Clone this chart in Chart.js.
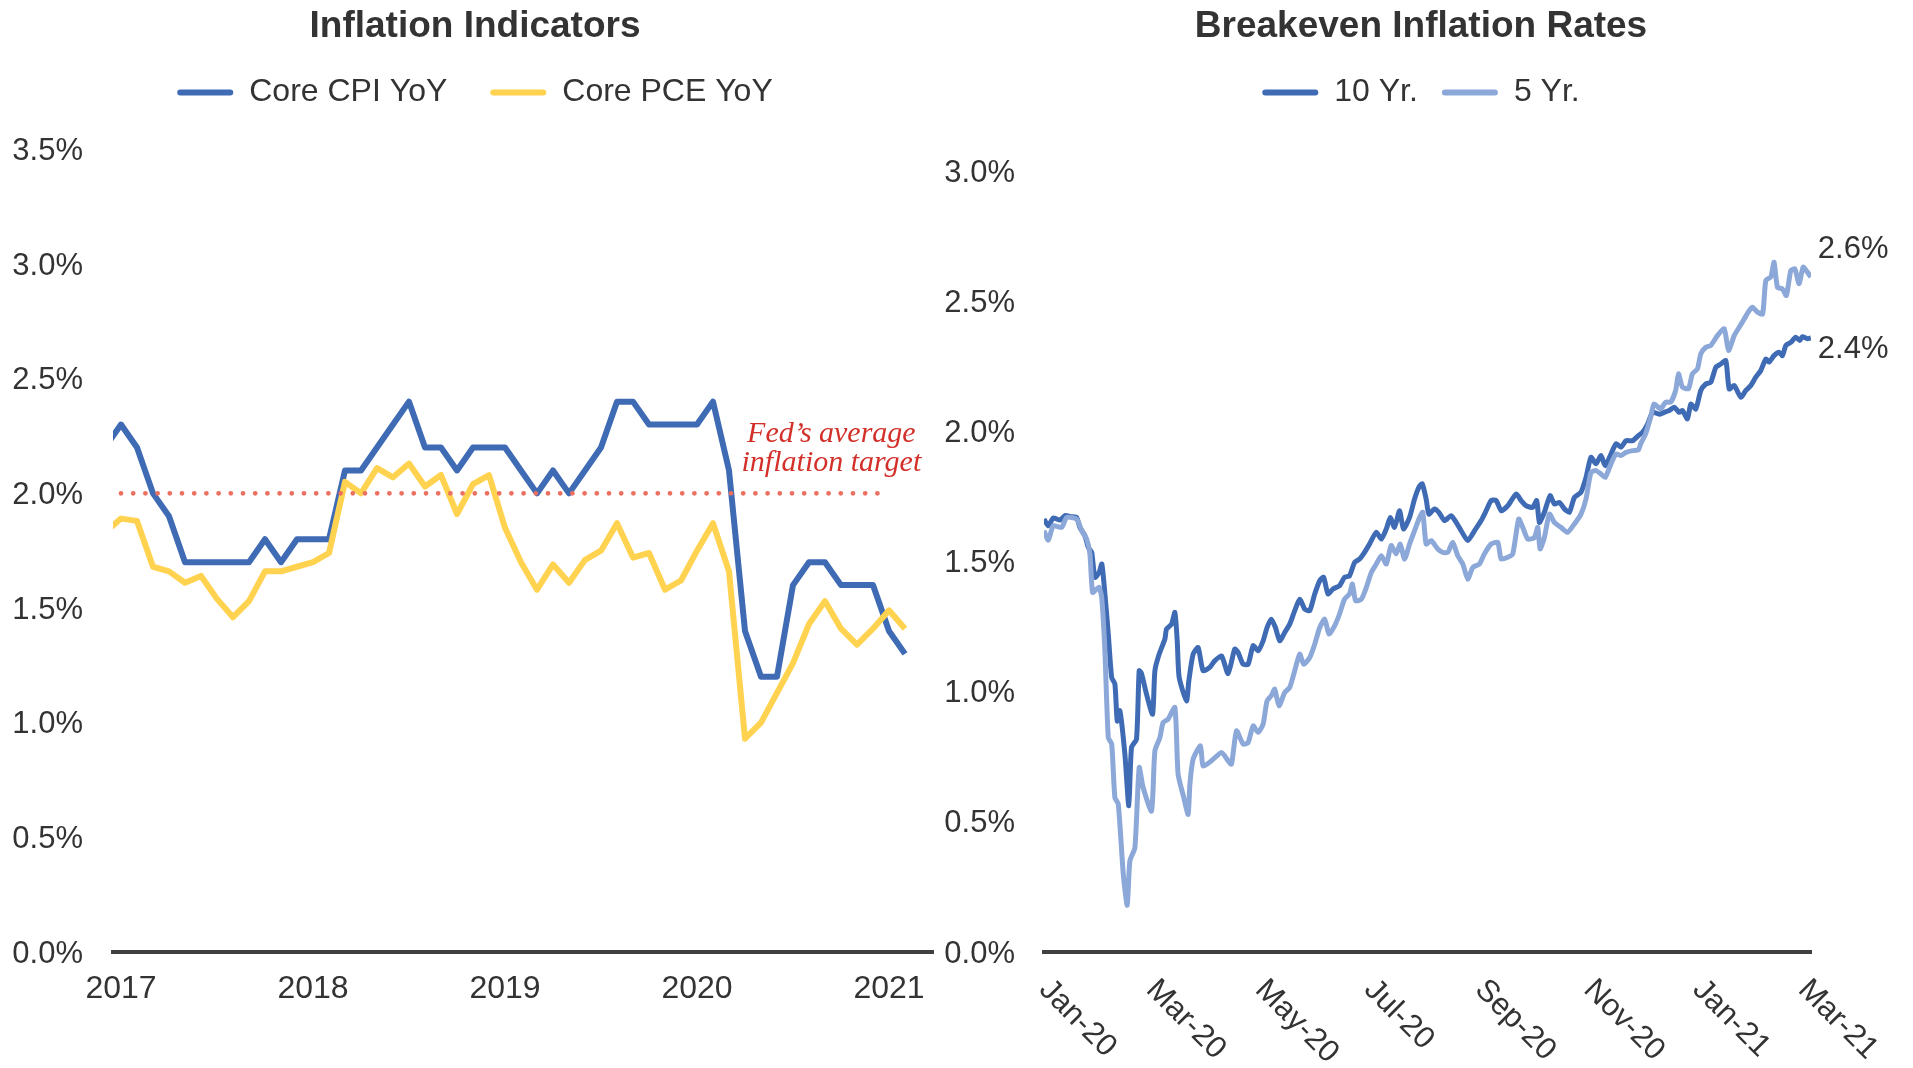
<!DOCTYPE html>
<html>
<head>
    <title>Inflation Indicators / Breakeven Inflation Rates</title>
    <script src="https://cdn.jsdelivr.net/npm/chart.js"></script>
    <style>
        body {
            margin: 0;
            background-color: #ffffff;
            overflow: hidden;
        }
        #leftChart { position: absolute; left: 0; top: 0; }
        #rightChart { position: absolute; left: 930px; top: 0; }
    </style>
</head>
<body>
    <canvas id="leftChart" width="950" height="1068"></canvas>
    <canvas id="rightChart" width="983" height="1068"></canvas>

    <script>
        // ---- Inflation Indicators (monthly, first point Dec 2016, x = months from Jan 2017)
        const firstMonth = -1;
        const coreCpi = [2.2,
            2.3, 2.2, 2.0, 1.9, 1.7, 1.7, 1.7, 1.7, 1.7, 1.8, 1.7, 1.8,
            1.8, 1.8, 2.1, 2.1, 2.2, 2.3, 2.4, 2.2, 2.2, 2.1, 2.2, 2.2,
            2.2, 2.1, 2.0, 2.1, 2.0, 2.1, 2.2, 2.4, 2.4, 2.3, 2.3, 2.3,
            2.3, 2.4, 2.1, 1.4, 1.2, 1.2, 1.6, 1.7, 1.7, 1.6, 1.6, 1.6,
            1.4, 1.3];
        const corePce = [1.83,
            1.89, 1.88, 1.68, 1.66, 1.61, 1.64, 1.54, 1.46, 1.53, 1.66, 1.66, 1.68,
            1.70, 1.74, 2.05, 2.00, 2.11, 2.07, 2.13, 2.03, 2.08, 1.91, 2.04, 2.08,
            1.85, 1.70, 1.58, 1.69, 1.61, 1.71, 1.75, 1.87, 1.72, 1.74, 1.58, 1.62,
            1.75, 1.87, 1.66, 0.93, 1.00, 1.13, 1.26, 1.43, 1.53, 1.41, 1.34, 1.41,
            1.49, 1.41];
        const fedTarget = 2.0;
        const targetFrom = 0;   // Jan 2017
        const targetTo = 48;    // Jan 2021
        const yearTicks = [0, 12, 24, 36, 48];
        const yearLabels = ['2017', '2018', '2019', '2020', '2021'];
        const noteLines = ['Fed\u2019s average', 'inflation target'];
        const noteMonth = 44.4;
        const noteLevels = [2.26, 2.13];

        // ---- Breakeven Inflation Rates (x = days from 1 Jan 2020)
        const days10 = [0, 2.4, 5.2, 8.9, 11.7, 15.5, 18.3, 20.1, 22.9, 24.8, 26.7, 28.5, 30.9, 32.4, 34.1, 36.0,
            37.9, 39.7, 41.0, 42.5, 45.3, 47.5, 49.0, 51.8, 53.3, 54.6, 57.4, 60.8, 62.1, 64.5, 67.7, 68.6,
            71.4, 73.3, 74.6, 75.7, 79.8, 81.1, 83.5, 86.3, 89.1, 92.8, 95.6, 99.4, 103.1, 106.8, 108.7, 111.5,
            114.3, 117.1, 119.9, 122.7, 124.9, 127.3, 129.6, 132.0, 134.8, 137.6, 140.4, 143.2, 146.0, 148.8,
            151.6, 154.4, 156.6, 159.0, 161.8, 165.5, 168.3, 171.1, 173.9, 176.7, 179.5, 182.3, 186.1, 188.9,
            191.7, 193.9, 196.3, 199.1, 201.3, 204.7, 207.5, 209.9, 211.8, 214.0, 215.5, 218.7, 221.1, 224.3,
            228.0, 230.8, 233.6, 237.3, 241.1, 244.8, 247.6, 250.4, 253.2, 256.0, 259.7, 264.4, 267.2, 270.0,
            273.7, 275.9, 277.4, 280.2, 283.4, 285.8, 288.6, 291.4, 294.2, 297.0, 300.7, 303.5, 306.3, 309.1,
            311.9, 314.3, 317.5, 320.3, 323.1, 325.9, 329.6, 332.9, 335.2, 338.0, 340.8, 344.5, 347.3, 350.1,
            352.9, 355.7, 357.5, 360.3, 362.2, 365.0, 367.8, 370.6, 373.4, 376.2, 379.0, 381.8, 383.7, 386.5,
            390.2, 393.0, 395.8, 398.6, 401.4, 404.2, 406.0, 408.8, 411.6, 413.5, 415.4, 418.2, 421.0, 423.2,
            424.7, 427.5, 429.4];
        const be10 = [1.664, 1.638, 1.668, 1.66, 1.677, 1.673, 1.67, 1.632, 1.6, 1.555, 1.536, 1.44, 1.459, 1.491, 1.376, 1.222,
            1.055, 1.03, 0.888, 0.927, 0.76, 0.562, 0.786, 0.818, 1.081, 1.07, 0.991, 0.914, 1.081, 1.145, 1.203, 1.241,
            1.26, 1.305, 1.196, 1.055, 0.965, 1.042, 1.145, 1.17, 1.081, 1.094, 1.119, 1.138, 1.07, 1.164, 1.151, 1.106,
            1.106, 1.177, 1.158, 1.196, 1.247, 1.279, 1.247, 1.196, 1.228, 1.26, 1.312, 1.356, 1.318, 1.312,
            1.376, 1.427, 1.44, 1.376, 1.395, 1.408, 1.44, 1.446, 1.497, 1.51, 1.536, 1.568, 1.613, 1.587,
            1.626, 1.67, 1.632, 1.696, 1.626, 1.67, 1.741, 1.786, 1.799, 1.741, 1.683, 1.703, 1.69, 1.658,
            1.677, 1.651, 1.619, 1.581, 1.619, 1.658, 1.696, 1.735, 1.735, 1.696, 1.715, 1.76, 1.735, 1.715,
            1.709, 1.735, 1.651, 1.69, 1.754, 1.722, 1.728, 1.703, 1.69, 1.747, 1.767, 1.824, 1.901, 1.876,
            1.908, 1.869, 1.914, 1.953, 1.94, 1.965, 1.965, 1.985, 1.997, 2.029, 2.074, 2.067, 2.074, 2.081,
            2.094, 2.074, 2.081, 2.049, 2.106, 2.087, 2.158, 2.183, 2.19, 2.247, 2.26, 2.273, 2.164, 2.177,
            2.132, 2.158, 2.177, 2.209, 2.235, 2.279, 2.267, 2.292, 2.305, 2.292, 2.331, 2.343, 2.363, 2.35,
            2.365, 2.357, 2.36];
        const days5 = [0, 2.4, 5.2, 9.9, 12.7, 18.3, 21.1, 23.9, 25.7, 27.2, 29.5, 30.9, 32.3, 34.1, 36.0, 37.9,
            39.7, 41.6, 44.4, 46.6, 48.1, 50.9, 53.3, 55.5, 60.2, 62.1, 64.9, 66.7, 69.5, 73.3, 75.1, 78.3,
            80.7, 81.7, 83.5, 87.6, 89.1, 93.8, 99.4, 103.1, 105.0, 107.8, 111.5, 114.3, 117.1, 119.9, 122.7, 124.9,
            127.3, 129.2, 131.6, 134.8, 137.6, 140.4, 143.2, 145.4, 148.8, 151.6, 154.4, 157.2, 159.6, 162.8,
            165.5, 168.3, 171.1, 172.7, 174.5, 177.7, 180.5, 183.3, 186.1, 188.9, 191.7, 194.4, 197.2, 199.5,
            201.9, 204.7, 207.5, 210.3, 212.1, 214.0, 216.8, 220.5, 223.3, 226.1, 228.9, 231.7, 234.5, 237.3,
            240.1, 243.8, 246.6, 250.4, 254.1, 256.0, 259.7, 262.5, 265.8, 268.1, 270.9, 274.6, 276.5, 277.8,
            280.2, 283.0, 285.8, 289.5, 293.2, 297.0, 300.7, 303.5, 306.3, 309.1, 311.9, 314.3, 317.5, 320.3,
            323.1, 325.9, 329.6, 332.9, 334.1, 336.9, 339.7, 341.6, 345.3, 348.1, 350.9, 353.7, 355.3, 357.5,
            360.9, 363.1, 365.9, 367.8, 370.6, 373.4, 377.1, 380.9, 383.3, 386.5, 389.3, 392.1, 394.9, 396.7,
            399.5, 402.4, 404.2, 407.0, 408.8, 410.7, 413.5, 415.7, 418.2, 420.5, 422.8, 425.1, 427.5, 429.4];
        const be5 = [1.619, 1.583, 1.638, 1.632, 1.67, 1.664, 1.619, 1.587, 1.53, 1.382, 1.395, 1.401, 1.363, 1.158, 0.824, 0.799,
            0.593, 0.568, 0.299, 0.18, 0.35, 0.401, 0.709, 0.632, 0.542, 0.773, 0.824, 0.882, 0.895, 0.94, 0.683, 0.593,
            0.529, 0.645, 0.741, 0.792, 0.715, 0.735, 0.767, 0.735, 0.722, 0.85, 0.799, 0.805, 0.869, 0.844, 0.876, 0.965,
            0.985, 1.01, 0.946, 0.997, 1.017, 1.081, 1.145, 1.106, 1.132, 1.183, 1.247, 1.279, 1.222, 1.254,
            1.299, 1.356, 1.376, 1.414, 1.35, 1.356, 1.401, 1.459, 1.491, 1.523, 1.491, 1.562, 1.53, 1.568,
            1.51, 1.568, 1.619, 1.67, 1.69, 1.568, 1.581, 1.549, 1.536, 1.536, 1.574, 1.523, 1.491, 1.433,
            1.478, 1.491, 1.53, 1.568, 1.574, 1.51, 1.517, 1.53, 1.664, 1.632, 1.587, 1.593, 1.632, 1.549,
            1.593, 1.683, 1.651, 1.632, 1.613, 1.645, 1.683, 1.741, 1.843, 1.85, 1.837, 1.824, 1.876, 1.914,
            1.908, 1.92, 1.927, 1.93, 1.953, 1.991, 2.055, 2.106, 2.087, 2.113, 2.113, 2.158, 2.222, 2.171,
            2.165, 2.222, 2.241, 2.299, 2.324, 2.331, 2.369, 2.395, 2.312, 2.369, 2.401, 2.433, 2.465, 2.478,
            2.459, 2.452, 2.581, 2.594, 2.651, 2.555, 2.548, 2.523, 2.619, 2.625, 2.568, 2.632, 2.613, 2.594];
        const monthTicks = [0, 60, 121, 182, 244, 305, 366, 425];
        const monthLabels = ['Jan-20', 'Mar-20', 'May-20', 'Jul-20', 'Sep-20', 'Nov-20', 'Jan-21', 'Mar-21'];

        const TEXT = '#333333';
        const SANS = '"Liberation Sans", Arial, sans-serif';
        Chart.defaults.font.family = SANS;
        Chart.defaults.color = TEXT;
        Chart.defaults.animation = false;

        const toPoints = (xs, ys) => ys.map((y, i) => ({ x: xs[i], y: y }));
        const pct = v => v.toFixed(1) + '%';

        // legend swatches: flat coloured bars instead of outlined boxes
        const swatchLabels = chart => Chart.defaults.plugins.legend.labels.generateLabels(chart)
            .map(item => Object.assign(item, { fillStyle: item.strokeStyle, lineWidth: 0, borderRadius: 3 }));
        const byIndex = (a, b) => a.datasetIndex - b.datasetIndex;

        // extra space under the legend
        const legendGap = {
            id: 'legendGap',
            beforeInit(chart, args, opts) {
                const fit = chart.legend.fit;
                chart.legend.fit = function () {
                    fit.call(this);
                    this.height += opts.extra;
                };
            }
        };

        // red italic note next to the dotted target line
        const targetNote = {
            id: 'targetNote',
            afterDatasetsDraw(chart) {
                const { ctx, scales: { x, y } } = chart;
                ctx.save();
                ctx.font = 'italic 30px "Liberation Serif", Georgia, serif';
                ctx.fillStyle = '#D3302A';
                ctx.textAlign = 'center';
                ctx.textBaseline = 'middle';
                noteLines.forEach((line, i) => {
                    ctx.fillText(line, x.getPixelForValue(noteMonth), y.getPixelForValue(noteLevels[i]));
                });
                ctx.restore();
            }
        };

        // last value printed to the right of each breakeven line
        const endLabels = {
            id: 'endLabels',
            afterDatasetsDraw(chart) {
                const ctx = chart.ctx;
                ctx.save();
                ctx.font = '31px ' + SANS;
                ctx.fillStyle = TEXT;
                ctx.textAlign = 'left';
                ctx.textBaseline = 'middle';
                chart.data.datasets.forEach((ds, i) => {
                    const pts = chart.getDatasetMeta(i).data;
                    const last = pts[pts.length - 1];
                    ctx.fillText(pct(ds.data[ds.data.length - 1].y), last.x + 7, last.y + ds.labelShift);
                });
                ctx.restore();
            }
        };

        // month labels slanted downwards under the axis
        const slantLabels = {
            id: 'slantLabels',
            afterDraw(chart) {
                const { ctx, chartArea, scales: { x } } = chart;
                ctx.save();
                ctx.font = '31px ' + SANS;
                ctx.fillStyle = TEXT;
                ctx.textAlign = 'left';
                ctx.textBaseline = 'middle';
                monthTicks.forEach((d, i) => {
                    ctx.save();
                    ctx.translate(x.getPixelForValue(d), chartArea.bottom + 33);
                    ctx.rotate(Math.PI / 4);
                    ctx.fillText(monthLabels[i], 0, 0);
                    ctx.restore();
                });
                ctx.restore();
            }
        };

        const noGrid = { display: false, drawTicks: false };

        // Inflation Indicators
        new Chart(document.getElementById('leftChart'), {
            type: 'line',
            data: {
                datasets: [{
                    label: 'Core CPI YoY',
                    data: toPoints(coreCpi.map((_, i) => firstMonth + i), coreCpi),
                    borderColor: '#3F6BB5',
                    backgroundColor: '#3F6BB5',
                    borderWidth: 6,
                    borderJoinStyle: 'round',
                    pointRadius: 0,
                    order: 2
                }, {
                    label: 'Core PCE YoY',
                    data: toPoints(corePce.map((_, i) => firstMonth + i), corePce),
                    borderColor: '#FFD24F',
                    backgroundColor: '#FFD24F',
                    borderWidth: 6,
                    borderJoinStyle: 'round',
                    pointRadius: 0,
                    order: 1
                }, {
                    label: 'Fed target',
                    data: [{ x: targetFrom, y: fedTarget }, { x: targetTo, y: fedTarget }],
                    borderColor: '#EC6F5F',
                    borderWidth: 4.8,
                    borderDash: [0, 12.2],
                    borderCapStyle: 'round',
                    pointRadius: 0,
                    order: 0
                }]
            },
            options: {
                responsive: false,
                scales: {
                    x: {
                        type: 'linear',
                        min: -0.5,
                        max: 50.75,
                        grid: noGrid,
                        border: { display: true, color: '#404040', width: 4 },
                        ticks: {
                            font: { size: 32 },
                            color: TEXT,
                            padding: 18,
                            maxRotation: 0,
                            autoSkip: false,
                            callback: v => yearLabels[yearTicks.indexOf(v)] || ''
                        },
                        afterBuildTicks: s => { s.ticks = yearTicks.map(v => ({ value: v })); },
                        afterFit: s => { s.height = 116; }
                    },
                    y: {
                        min: 0,
                        max: 3.5,
                        grid: noGrid,
                        border: { display: false },
                        ticks: { stepSize: 0.5, font: { size: 31 }, color: TEXT, padding: 30, labelOffset: 2, callback: pct },
                        afterFit: s => { s.width = 113; }
                    },
                    pad: {
                        type: 'linear',
                        position: 'right',
                        grid: noGrid,
                        border: { display: false },
                        ticks: { display: false },
                        afterFit: s => { s.width = 17; }
                    }
                },
                plugins: {
                    title: {
                        display: true,
                        text: 'Inflation Indicators',
                        color: TEXT,
                        font: { size: 37, weight: 'bold', lineHeight: 1.2 },
                        padding: { top: 5, bottom: -16 }
                    },
                    legend: {
                        labels: {
                            boxWidth: 56,
                            boxHeight: 6,
                            padding: 43,
                            color: TEXT,
                            font: { size: 32 },
                            generateLabels: swatchLabels,
                            filter: item => item.datasetIndex < 2,
                            sort: byIndex
                        }
                    },
                    tooltip: { enabled: false },
                    legendGap: { extra: 31 }
                }
            },
            plugins: [legendGap, targetNote]
        });

        // Breakeven Inflation Rates
        new Chart(document.getElementById('rightChart'), {
            type: 'line',
            data: {
                datasets: [{
                    label: '10 Yr.',
                    data: toPoints(days10, be10),
                    borderColor: '#3F6BB5',
                    backgroundColor: '#3F6BB5',
                    borderWidth: 5,
                    borderJoinStyle: 'round',
                    tension: 0.2,
                    pointRadius: 0,
                    labelShift: 12,
                    order: 1
                }, {
                    label: '5 Yr.',
                    data: toPoints(days5, be5),
                    borderColor: '#8CA8D9',
                    backgroundColor: '#8CA8D9',
                    borderWidth: 5,
                    borderJoinStyle: 'round',
                    tension: 0.2,
                    pointRadius: 0,
                    labelShift: -28,
                    order: 0
                }]
            },
            options: {
                responsive: false,
                layout: { padding: { right: 1 } },
                scales: {
                    x: {
                        type: 'linear',
                        min: 0,
                        max: 429.5,
                        grid: noGrid,
                        border: { display: true, color: '#404040', width: 4 },
                        ticks: { display: false },
                        afterFit: s => { s.height = 116; }
                    },
                    y: {
                        min: 0,
                        max: 3.0,
                        grid: noGrid,
                        border: { display: false },
                        ticks: { stepSize: 0.5, font: { size: 31 }, color: TEXT, padding: 29, labelOffset: 2, callback: pct },
                        afterFit: s => { s.width = 114; }
                    },
                    pad: {
                        type: 'linear',
                        position: 'right',
                        grid: noGrid,
                        border: { display: false },
                        ticks: { display: false },
                        afterFit: s => { s.width = 101; }
                    }
                },
                plugins: {
                    title: {
                        display: true,
                        text: 'Breakeven Inflation Rates',
                        color: TEXT,
                        font: { size: 37, weight: 'bold', lineHeight: 1.2 },
                        padding: { top: 5, bottom: 3 }
                    },
                    legend: {
                        labels: {
                            boxWidth: 56,
                            boxHeight: 6,
                            padding: 24,
                            color: TEXT,
                            font: { size: 32 },
                            generateLabels: swatchLabels,
                            sort: byIndex
                        }
                    },
                    tooltip: { enabled: false },
                    legendGap: { extra: 53 }
                }
            },
            plugins: [legendGap, endLabels, slantLabels]
        });
    </script>
</body>
</html>
